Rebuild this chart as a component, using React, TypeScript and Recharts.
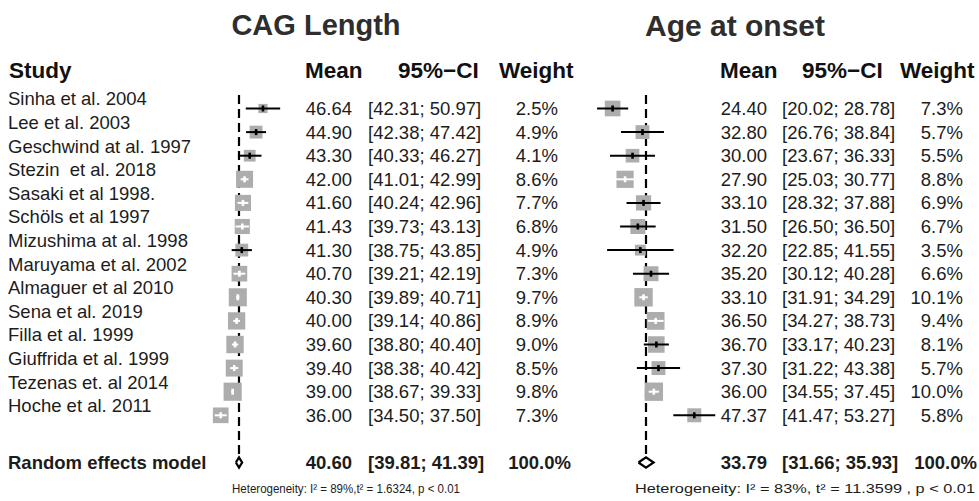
import React from 'react';
import { ScatterChart, Scatter, XAxis, YAxis, ReferenceLine } from 'recharts';

const studies = [
  'Sinha et al. 2004',
  'Lee et al. 2003',
  'Geschwind at al. 1997',
  'Stezin  et al. 2018',
  'Sasaki et al 1998.',
  'Schöls et al 1997',
  'Mizushima at al. 1998',
  'Maruyama et al. 2002',
  'Almaguer et al 2010',
  'Sena et al. 2019',
  'Filla et al. 1999',
  'Giuffrida et al. 1999',
  'Tezenas et. al 2014',
  'Hoche et al. 2011',
];

const cagMean = [46.64, 44.9, 43.3, 42.0, 41.6, 41.43, 41.3, 40.7, 40.3, 40.0, 39.6, 39.4, 39.0, 36.0];
const cagLower = [42.31, 42.38, 40.33, 41.01, 40.24, 39.73, 38.75, 39.21, 39.89, 39.14, 38.8, 38.38, 38.67, 34.5];
const cagUpper = [50.97, 47.42, 46.27, 42.99, 42.96, 43.13, 43.85, 42.19, 40.71, 40.86, 40.4, 40.42, 39.33, 37.5];
const cagWeight = [2.5, 4.9, 4.1, 8.6, 7.7, 6.8, 4.9, 7.3, 9.7, 8.9, 9.0, 8.5, 9.8, 7.3];
const cagPooled = { mean: 40.6, lower: 39.81, upper: 41.39 };
const cagHet = 'Heterogeneity: I² = 89%,t² = 1.6324, p < 0.01';

const ageMean = [24.4, 32.8, 30.0, 27.9, 33.1, 31.5, 32.2, 35.2, 33.1, 36.5, 36.7, 37.3, 36.0, 47.37];
const ageLower = [20.02, 26.76, 23.67, 25.03, 28.32, 26.5, 22.85, 30.12, 31.91, 34.27, 33.17, 31.22, 34.55, 41.47];
const ageUpper = [28.78, 38.84, 36.33, 30.77, 37.88, 36.5, 41.55, 40.28, 34.29, 38.73, 40.23, 43.38, 37.45, 53.27];
const ageWeight = [7.3, 5.7, 5.5, 8.8, 6.9, 6.7, 3.5, 6.6, 10.1, 9.4, 8.1, 5.7, 10.0, 5.8];
const agePooled = { mean: 33.79, lower: 31.66, upper: 35.93 };
const ageHet = 'Heterogeneity:  I² = 83%,  t² = 11.3599 , p  < 0.01';

// layout
const W = 979;
const H = 501;
const FONT = '"Liberation Sans", Arial, Helvetica, sans-serif';
const ROW_PX = 23.6;
const ROW0_PX = 108.5;
const RE_ROW = 15;
const HET_ROW = 16;
const LABEL_LIFT = 9.5;
const BOX_K = 5.8;
const CAG_PX = 3.97;
const CAG_REF_X = 239;
const AGE_PX = 3.555;
const AGE_REF_X = 646;

const yDomain = [-ROW0_PX / ROW_PX, (H - ROW0_PX) / ROW_PX];
const rowY = (row: number) => ROW0_PX + row * ROW_PX;
const cagDomain = [cagPooled.mean - CAG_REF_X / CAG_PX, cagPooled.mean + (W - CAG_REF_X) / CAG_PX];
const ageDomain = [agePooled.mean - AGE_REF_X / AGE_PX, agePooled.mean + (W - AGE_REF_X) / AGE_PX];

const cagCols = { mean: 352, ci: 368, weight: 558, total: 571, het: 232, hetLen: 228 };
const ageCols = { mean: 767, ci: 782, weight: 963, total: 977, het: 635, hetLen: 340 };

const boxSide = (w: number) => BOX_K * Math.sqrt(w);

const buildRows = (mean: number[], lower: number[], upper: number[], weight: number[], px: number) =>
  mean.map((m, i) => ({
    x: m,
    y: i,
    w: weight[i],
    lower: lower[i],
    upper: upper[i],
    // CI drawn white when it fits inside the box
    inside: (upper[i] - lower[i]) * px < boxSide(weight[i]) * 1.25,
  }));

const cagRows = buildRows(cagMean, cagLower, cagUpper, cagWeight, CAG_PX);
const ageRows = buildRows(ageMean, ageLower, ageUpper, ageWeight, AGE_PX);

const diamond = (p: { mean: number; lower: number; upper: number }) => [
  { x: p.lower, y: RE_ROW },
  { x: p.mean, y: RE_ROW - 0.22 },
  { x: p.upper, y: RE_ROW },
  { x: p.mean, y: RE_ROW + 0.22 },
  { x: p.lower, y: RE_ROW },
];

const renderBox = (props: any) => {
  const s = boxSide(props.payload.w);
  return <rect x={props.cx - s / 2} y={props.cy - s / 2} width={s} height={s} fill="#adadad" />;
};

const renderPoint = (props: any) => (
  <rect x={props.cx - 1.3} y={props.cy - 3} width={2.6} height={6} fill={props.payload.inside ? '#fff' : '#000'} />
);

const renderNothing = () => <g />;

const fmt = (v: number) => v.toFixed(2);

const textProps = { fontFamily: FONT, fontSize: 18.5, fill: '#1c1c1c', dy: '0.35em' };

const ValueCols = ({ y, cols, mean, lower, upper, weight, total }: any) => (
  <g>
    <text {...textProps} x={cols.mean} y={y} textAnchor="end">{fmt(mean)}</text>
    <text {...textProps} x={cols.ci} y={y} textAnchor="start">{`[${fmt(lower)}; ${fmt(upper)}]`}</text>
    <text {...textProps} x={total ? cols.total : cols.weight} y={y} textAnchor="end">{`${weight.toFixed(1)}%`}</text>
  </g>
);

const Panel = (axisId: string, rows: any[], pooled: any) => [
  <Scatter key={axisId + '-box'} xAxisId={axisId} yAxisId="rows" data={rows} shape={renderBox} isAnimationActive={false} />,
  ...rows.map((r, i) => (
    <Scatter
      key={axisId + '-ci' + i}
      xAxisId={axisId}
      yAxisId="rows"
      data={[{ x: r.lower, y: r.y }, { x: r.upper, y: r.y }]}
      line={{ stroke: r.inside ? '#fff' : '#000', strokeWidth: 2 }}
      lineType="joint"
      shape={renderNothing}
      isAnimationActive={false}
    />
  )),
  <Scatter key={axisId + '-pt'} xAxisId={axisId} yAxisId="rows" data={rows} shape={renderPoint} isAnimationActive={false} />,
  <ReferenceLine
    key={axisId + '-ref'}
    xAxisId={axisId}
    yAxisId="rows"
    segment={[{ x: pooled.mean, y: -0.57 }, { x: pooled.mean, y: 14.68 }]}
    stroke="#000"
    strokeWidth={2.2}
    strokeDasharray="9 5"
  />,
  <Scatter
    key={axisId + '-dia'}
    xAxisId={axisId}
    yAxisId="rows"
    data={diamond(pooled)}
    line={{ stroke: '#000', strokeWidth: 2.2 }}
    lineType="joint"
    shape={renderNothing}
    isAnimationActive={false}
  />,
];

const TextLayer = () => {
  const reY = rowY(RE_ROW);
  const hy = rowY(HET_ROW) + 3;
  return (
    <svg width={W} height={H} style={{ position: 'absolute', left: 0, top: 0, pointerEvents: 'none' }}>
      <g fontFamily={FONT} fontWeight="bold">
        <text x={316} y={25} dy="0.35em" fontSize={29} fill="#2e2e2e" textAnchor="middle">CAG Length</text>
        <text x={735} y={25} dy="0.35em" fontSize={30} fill="#2e2e2e" textAnchor="middle">Age at onset</text>
        <g fontSize={22.5} fill="#111">
          <text x={9} y={70} dy="0.35em">Study</text>
          <text x={305} y={70} dy="0.35em">Mean</text>
          <text x={398} y={70} dy="0.35em">95%−CI</text>
          <text x={499} y={70} dy="0.35em">Weight</text>
          <text x={720} y={70} dy="0.35em">Mean</text>
          <text x={802} y={70} dy="0.35em">95%−CI</text>
          <text x={900} y={70} dy="0.35em">Weight</text>
        </g>
      </g>
      {studies.map((s, i) => (
        <g key={s}>
          <text {...textProps} x={8} y={rowY(i) - LABEL_LIFT} style={{ whiteSpace: 'pre' }}>{s}</text>
          <ValueCols y={rowY(i)} cols={cagCols} mean={cagMean[i]} lower={cagLower[i]} upper={cagUpper[i]} weight={cagWeight[i]} />
          <ValueCols y={rowY(i)} cols={ageCols} mean={ageMean[i]} lower={ageLower[i]} upper={ageUpper[i]} weight={ageWeight[i]} />
        </g>
      ))}
      <g fontWeight="bold">
        <text {...textProps} x={8} y={reY}>Random effects model</text>
        <ValueCols y={reY} cols={cagCols} mean={cagPooled.mean} lower={cagPooled.lower} upper={cagPooled.upper} weight={100} total />
        <ValueCols y={reY} cols={ageCols} mean={agePooled.mean} lower={agePooled.lower} upper={agePooled.upper} weight={100} total />
      </g>
      <g fontFamily={FONT} fill="#1c1c1c" fontSize={12} style={{ whiteSpace: 'pre' }}>
        <text x={cagCols.het} y={hy} dy="0.35em" textLength={cagCols.hetLen} lengthAdjust="spacingAndGlyphs">{cagHet}</text>
        <text x={ageCols.het} y={hy} dy="0.35em" textLength={ageCols.hetLen} lengthAdjust="spacingAndGlyphs">{ageHet}</text>
      </g>
    </svg>
  );
};

const App = () => {
  return (
    <div style={{ position: 'absolute', left: 0, top: 0, width: W, height: H, background: '#fff' }}>
      <ScatterChart width={W} height={H} margin={{ top: 0, right: 0, bottom: 0, left: 0 }}>
        <XAxis xAxisId="cag" type="number" dataKey="x" domain={cagDomain} allowDataOverflow hide />
        <XAxis xAxisId="age" type="number" dataKey="x" domain={ageDomain} allowDataOverflow hide />
        <YAxis yAxisId="rows" type="number" dataKey="y" domain={yDomain} reversed allowDataOverflow hide />
        {Panel('cag', cagRows, cagPooled)}
        {Panel('age', ageRows, agePooled)}
      </ScatterChart>
      <TextLayer />
    </div>
  );
};

export default App;
